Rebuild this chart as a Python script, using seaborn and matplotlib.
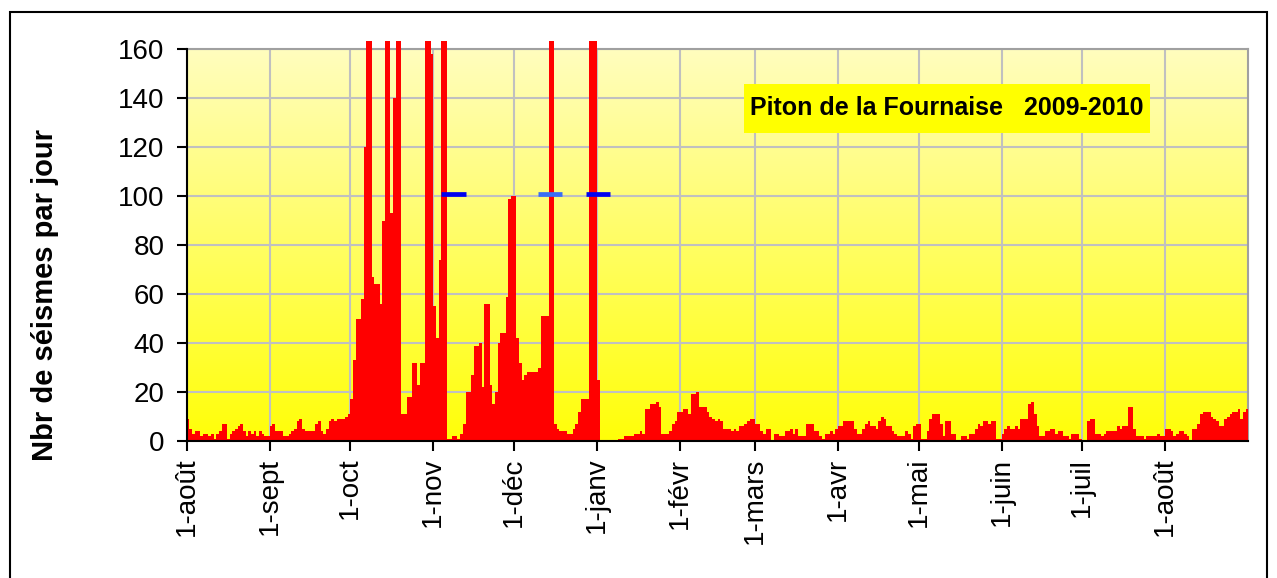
import numpy as np
import pandas as pd
import matplotlib
matplotlib.use("Agg")
import matplotlib.pyplot as plt
import seaborn as sns
from matplotlib.colors import LinearSegmentedColormap
from matplotlib.patches import Rectangle
from matplotlib.transforms import Bbox, TransformedBbox

sns.set_theme(style="white")
plt.rcParams['font.family'] = ['Liberation Sans', 'DejaVu Sans']
plt.rcParams['text.color'] = 'black'
plt.rcParams['xtick.color'] = 'black'
plt.rcParams['ytick.color'] = 'black'

# daily earthquake counts, Aug 2009 -> Aug 2010 (values above 160 are off scale)
aug09 = [9, 5, 3, 4, 4, 2, 3, 3, 2, 3, 1, 3, 4, 7, 7, 1, 3, 4, 5, 6, 7, 4, 2, 4, 3, 4, 2, 4, 3, 2, 2]
sep09 = [6, 7, 4, 4, 4, 2, 2, 3, 4, 5, 8, 9, 5, 4, 4, 4, 4, 7, 8, 4, 3, 5, 8, 9, 8, 9, 9, 9, 10, 11]
oct09 = [17, 33, 50, 50, 58, 120, 230, 185, 67, 64, 64, 56, 90, 210, 175, 93, 140, 260, 195, 11,
         11, 18, 18, 32, 32, 23, 32, 32, 310, 220, 158]
nov09 = [55, 42, 74, 480, 360, 1, 1, 2, 2, 1, 3, 7, 20, 20, 27, 39, 39, 40, 22, 56,
         56, 23, 15, 20, 40, 44, 44, 59, 99, 100]
dec09 = [100, 42, 32, 25, 27, 28, 28, 28, 28, 30, 51, 51, 51, 420, 290, 7, 5, 4, 4, 4,
         3, 3, 5, 7, 12, 17, 17, 17, 200, 380, 240]
jan10 = [25, 0, 0, 0, 0, 0, 0, 0, 1, 1, 2, 2, 2, 2, 3, 3, 4, 3, 13, 13, 15, 15, 16, 14, 3, 3, 3, 4, 7, 8, 12]
feb10 = [12, 13, 13, 11, 19, 19, 20, 14, 14, 14, 12, 10, 9, 8, 9, 8, 5, 5, 5, 4, 5, 4, 6, 6, 7, 8, 9, 9]
mar10 = [7, 7, 4, 3, 5, 5, 0, 3, 3, 2, 2, 4, 4, 5, 3, 5, 2, 2, 2, 7, 7, 7, 4, 4, 2, 1, 3, 3, 4, 3, 5]
apr10 = [6, 6, 8, 8, 8, 8, 5, 3, 3, 5, 7, 8, 6, 6, 5, 8, 10, 9, 6, 6, 4, 3, 2, 2, 2, 4, 3, 1, 6, 7]
may10 = [7, 1, 1, 4, 9, 11, 11, 11, 7, 2, 8, 8, 3, 3, 0, 0, 2, 2, 1, 3, 3, 5, 7, 6, 8, 8, 7, 8, 8, 1, 1]
jun10 = [3, 5, 6, 5, 5, 6, 5, 9, 9, 9, 15, 16, 11, 6, 2, 2, 4, 4, 5, 5, 3, 4, 4, 2, 2, 1, 3, 3, 3, 1]
jul10 = [0, 0, 8, 9, 9, 3, 3, 2, 3, 4, 4, 4, 4, 6, 5, 6, 6, 14, 14, 5, 2, 2, 2, 1, 2, 2, 2, 2, 3, 2, 2]
aug10 = [5, 5, 4, 2, 3, 4, 4, 3, 2, 0, 5, 5, 7, 11, 12, 12, 12, 10, 9, 8, 6, 6, 9, 10, 11, 12, 12, 13, 9, 12, 13]

month_labels = ["1-août", "1-sept", "1-oct", "1-nov", "1-déc", "1-janv", "1-févr",
                "1-mars", "1-avr", "1-mai", "1-juin", "1-juil", "1-août"]

# eruption markers (blue dashes at y=101)
marker_start = ["2009-11-04", "2009-12-10", "2009-12-28"]
marker_end = ["2009-11-13", "2009-12-19", "2010-01-06"]
marker_colors = ["#0000F0", "#3A6EF5", "#0000F0"]
marker_level = 101

title_text = "Piton de la Fournaise   2009-2010"
ylabel_text = "Nbr de séismes par jour"

counts = aug09 + sep09 + oct09 + nov09 + dec09 + jan10 + feb10 + mar10 + apr10 + may10 + jun10 + jul10 + aug10
dates = pd.date_range("2009-08-01", periods=len(counts), freq="D")
df = pd.DataFrame({"day": np.arange(len(counts)), "n": counts})

fig = plt.figure(figsize=(12.77, 5.78), dpi=100)
fig.patch.set_facecolor("white")
ax = fig.add_axes([186.7 / 1277, 1 - 441 / 578, (1248.3 - 186.7) / 1277, (441 - 49.3) / 578])

# yellow gradient background
grad = np.linspace(0, 1, 256).reshape(-1, 1)
cmap = LinearSegmentedColormap.from_list("bg", ["#FFFF08", "#FFFDBE"])
ax.imshow(grad, extent=(-0.5, len(counts) - 0.5, 0, 160), origin="lower",
          aspect="auto", cmap=cmap, zorder=0)

sns.barplot(data=df, x="day", y="n", native_scale=True, width=1, color="#FF0000",
            saturation=1, linewidth=0, edgecolor="none", errorbar=None, ax=ax, zorder=3)

# let the off-scale peaks poke slightly above the frame, like the original
clip = TransformedBbox(Bbox([[0, 0], [1, 1.022]]), ax.transAxes)
for p in ax.patches:
    p.set_clip_box(clip)

# eruption markers
start0 = dates[0]
for s, e, c in zip(marker_start, marker_end, marker_colors):
    x0 = (pd.Timestamp(s) - start0).days - 0.5
    x1 = (pd.Timestamp(e) - start0).days - 0.5
    ax.hlines(marker_level, x0, x1, colors=c, linewidth=3.4, zorder=5, capstyle="butt")

ax.set_xlim(-0.5, len(counts) - 0.5)
ax.set_ylim(0, 160)
month_pos = np.where(dates.day == 1)[0] - 0.5
ax.set_xticks(month_pos)
ax.set_xticklabels(month_labels, rotation=90, ha="center", va="top")
ax.set_yticks(np.arange(0, 161, 20))
ax.set_xlabel("")
ax.set_ylabel("")

ax.grid(True, color="#C0C0C0", linewidth=1.5)
ax.set_axisbelow(True)
ax.tick_params(axis="both", which="both", bottom=True, left=True, direction="out",
               length=7, width=1.5, color="black", labelcolor="black", labelsize=20)
ax.tick_params(axis="y", pad=9)
ax.tick_params(axis="x", pad=5)

for side in ["top", "right"]:
    ax.spines[side].set_color("#A0A0A0")
    ax.spines[side].set_linewidth(1.5)
for side in ["left", "bottom"]:
    ax.spines[side].set_color("black")
    ax.spines[side].set_linewidth(1.5)
    ax.spines[side].set_zorder(4)

# title box
fig.patches.append(Rectangle((744 / 1277, 1 - 133 / 578), 406 / 1277, 49 / 578,
                             transform=fig.transFigure, facecolor="#FFFF00",
                             edgecolor="none", zorder=10))
fig.text(947 / 1277, 1 - 108.5 / 578, title_text, ha="center", va="center",
         fontsize=18, fontweight="bold", zorder=11)

fig.text(45 / 1277, 1 - 295 / 578, ylabel_text, rotation=90, ha="center", va="center",
         fontsize=21, fontweight="bold")

# outer frame
fig.patches.append(Rectangle((10 / 1277, -0.1), 1257 / 1277, 1.1 - 12 / 578,
                             transform=fig.transFigure, fill=False,
                             edgecolor="black", linewidth=1.5))

fig.savefig("out.png", dpi=100)
